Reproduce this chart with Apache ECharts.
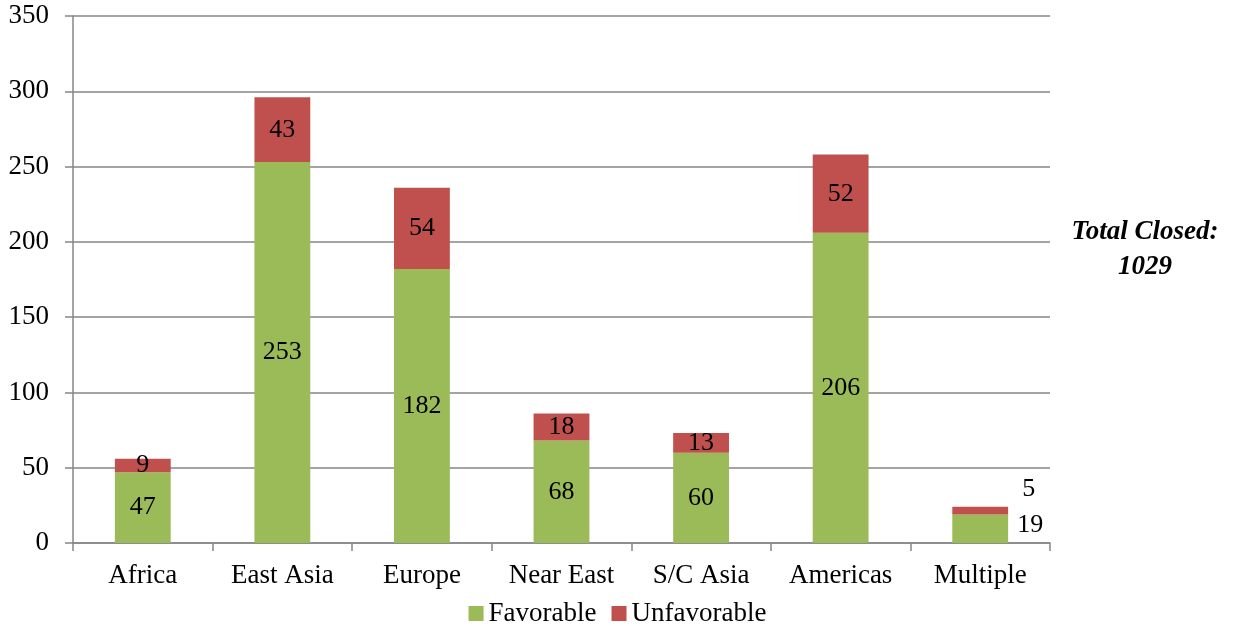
<!DOCTYPE html>
<html>
<head>
<meta charset="utf-8">
<script src="https://cdn.jsdelivr.net/npm/echarts@6/dist/echarts.min.js"></script>
<style>
	html, body { margin: 0; padding: 0; background: #fff; }
	#chart { width: 1235px; height: 626px; }
</style>
</head>
<body>
<div id="chart"></div>
<script>
	'use strict'

	var regions = ['Africa', 'East Asia', 'Europe', 'Near East', 'S/C Asia', 'Americas', 'Multiple'];
	var favorable = [47, 253, 182, 68, 60, 206, 19];
	var unfavorable = [9, 43, 54, 18, 13, 52, 5];
	var totalText = 'Total Closed:\n1029';

	var font = '"Liberation Serif", "Times New Roman", serif';
	var last = regions.length - 1;

	/*-----stacked bars-----*/
	function segmentData(values, isTop) {
		return values.map(function(v, i) {
			if (i !== last) return v;
			return {
				value: v,
				label: {
					position: 'right',
					distance: 9,
					offset: isTop ? [5, -21] : [0, -4]
				}
			};
		});
	}

	var labelStyle = {
		show: true,
		position: 'inside',
		color: '#000',
		fontFamily: font,
		fontSize: 26
	};

	var chart = echarts.init(document.getElementById('chart'));
	var option = {
		animation: false,
		textStyle: { fontFamily: font },
		grid: {
			top: 16,
			left: 73,
			right: 185,
			bottom: 83
		},
		legend: {
			top: 600,
			left: 'center',
			padding: 0,
			itemWidth: 15,
			itemHeight: 15,
			itemGap: 15,
			icon: 'rect',
			textStyle: { fontFamily: font, fontSize: 27, color: '#000' },
			data: ['Favorable', 'Unfavorable']
		},
		xAxis: {
			type: 'category',
			data: regions,
			axisLine: { lineStyle: { color: '#868686', width: 1.5 } },
			axisTick: { show: true, length: 8, lineStyle: { color: '#868686', width: 1.5 } },
			axisLabel: { fontFamily: font, fontSize: 27, color: '#000', margin: 19 }
		},
		yAxis: {
			type: 'value',
			min: 0,
			max: 350,
			interval: 50,
			axisLine: { show: true, lineStyle: { color: '#868686', width: 1.5 } },
			axisTick: { show: true, length: 8, lineStyle: { color: '#868686', width: 1.5 } },
			splitLine: { lineStyle: { color: '#868686', width: 1.5 } },
			axisLabel: { fontFamily: font, fontSize: 27, color: '#000', margin: 24 }
		},
		series: [{
			name: 'Favorable',
			type: 'bar',
			stack: 'total',
			barWidth: '40%',
			data: segmentData(favorable, false),
			itemStyle: { color: '#9BBB59' },
			label: labelStyle
		}, {
			name: 'Unfavorable',
			type: 'bar',
			stack: 'total',
			barWidth: '40%',
			data: segmentData(unfavorable, true),
			itemStyle: { color: '#C0504D' },
			label: labelStyle
		}],
		graphic: [{
			type: 'text',
			x: 1145,
			y: 215,
			style: {
				text: totalText,
				align: 'center',
				fontFamily: font,
				fontSize: 27,
				fontWeight: 'bold',
				fontStyle: 'italic',
				lineHeight: 35,
				fill: '#000'
			}
		}]
	};
	chart.setOption(option);
</script>
</body>
</html>
